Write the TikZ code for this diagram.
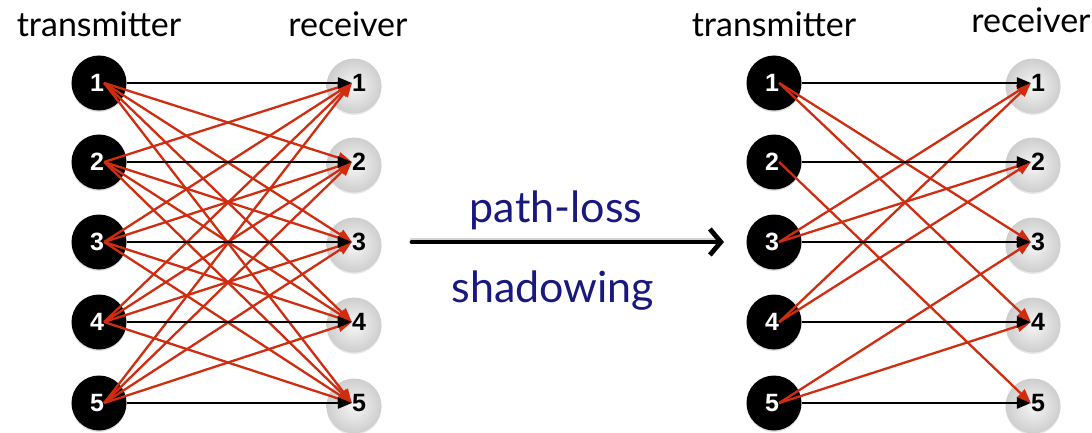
\documentclass[tikz,border=0pt]{standalone}
\usepackage{fontspec}
\setmainfont{Lato}
\newfontfamily\numfont{Liberation Sans}
\usetikzlibrary{arrows.meta,shadows}
\definecolor{linkred}{RGB}{208,44,16}
\definecolor{labelnavy}{RGB}{24,24,126}
\definecolor{rxlight}{RGB}{246,246,246}
\definecolor{rxdark}{RGB}{206,206,206}

\begin{document}
\begin{tikzpicture}[x=1pt,y=-1pt,
  txcircle/.style={circle, fill=black, minimum size=55pt, inner sep=0pt,
    drop shadow={opacity=0.25, shadow xshift=0pt, shadow yshift=-1.5pt}},
  rxcircle/.style={circle, shading=radial, inner color=rxlight, outer color=rxdark,
    minimum size=55pt, inner sep=0pt,
    drop shadow={opacity=0.18, shadow xshift=0pt, shadow yshift=-1.5pt}},
  txnum/.style={inner sep=0pt, text=white, font=\numfont\bfseries\fontsize{25}{25}\selectfont},
  rxnum/.style={inner sep=0pt, text=black, font=\numfont\bfseries\fontsize{25}{25}\selectfont},
  link/.style={line width=2.3pt, -{Triangle[length=14pt,width=11pt]}},
  cross/.style={link, draw=linkred, fill=linkred},
  direct/.style={link, draw=black, fill=black},
  head/.style={anchor=base, inner sep=0pt, font=\fontsize{34}{34}\selectfont},
  effect/.style={anchor=base, inner sep=0pt, text=labelnavy, font=\fontsize{43}{43}\selectfont},
]
\useasboundingbox (0,0) rectangle (1092,433);

% column headings
\node[head] (hl1) at (99,37) {transmitter};
\node[head] (hl2) at (348,37) {receiver};
\node[head] (hr1) at (774,37) {transmitter};
\node[head] (hr2) at (1031,33) {receiver};

% rows: transmitter/receiver nodes of both networks
\foreach \i/\y in {1/83,2/162,3/242,4/322,5/403}{
  % full network
  \node[txcircle] (lt\i) at (99,\y) {};
  \node[txnum] (ltn\i) at (97,\y) {\i};
  \node[rxcircle] (lr\i) at (354,\y+3) {};
  \node[rxnum] (lrn\i) at (359,\y) {\i};
  % reduced network
  \node[txcircle] (rt\i) at (774,\y) {};
  \node[txnum] (rtn\i) at (772,\y) {\i};
  \node[rxcircle] (rr\i) at (1033,\y+3) {};
  \node[rxnum] (rrn\i) at (1038,\y) {\i};
}

% full network: every transmitter reaches every receiver
\foreach \i in {1,...,5}{
  \foreach \j in {1,...,5}{
    \ifnum\i=\j\relax\else
      \draw[cross] (ltn\i.east) -- (lrn\j.west);
    \fi
  }
}
\foreach \i in {1,...,5}{
  \draw[direct] (lt\i.east) -- (lrn\i.west);
}

% reduced network after path-loss and shadowing
\foreach \i/\j in {1/3,1/4,2/5,3/1,3/2,4/1,4/2,5/3,5/4}{
  \draw[cross] (rtn\i.east) -- (rrn\j.west);
}
\foreach \i in {1,...,5}{
  \draw[direct] (rt\i.east) -- (rrn\i.west);
}

% transformation arrow with its two effects
\coordinate (from) at (412,242);
\coordinate (to) at (724,242);
\draw[line width=5pt, line cap=round, black!35, opacity=0.5, shorten >=6pt]
  ([yshift=2pt]from) -- ([yshift=2pt]to);
\draw[line width=4.8pt, line cap=round, -{Straight Barb[length=11pt,width=26pt]}]
  (from) -- (to);
\node[effect] (pl) at (556,222) {path-loss};
\node[effect] (sh) at (553,302) {shadowing};
\end{tikzpicture}
\end{document}
